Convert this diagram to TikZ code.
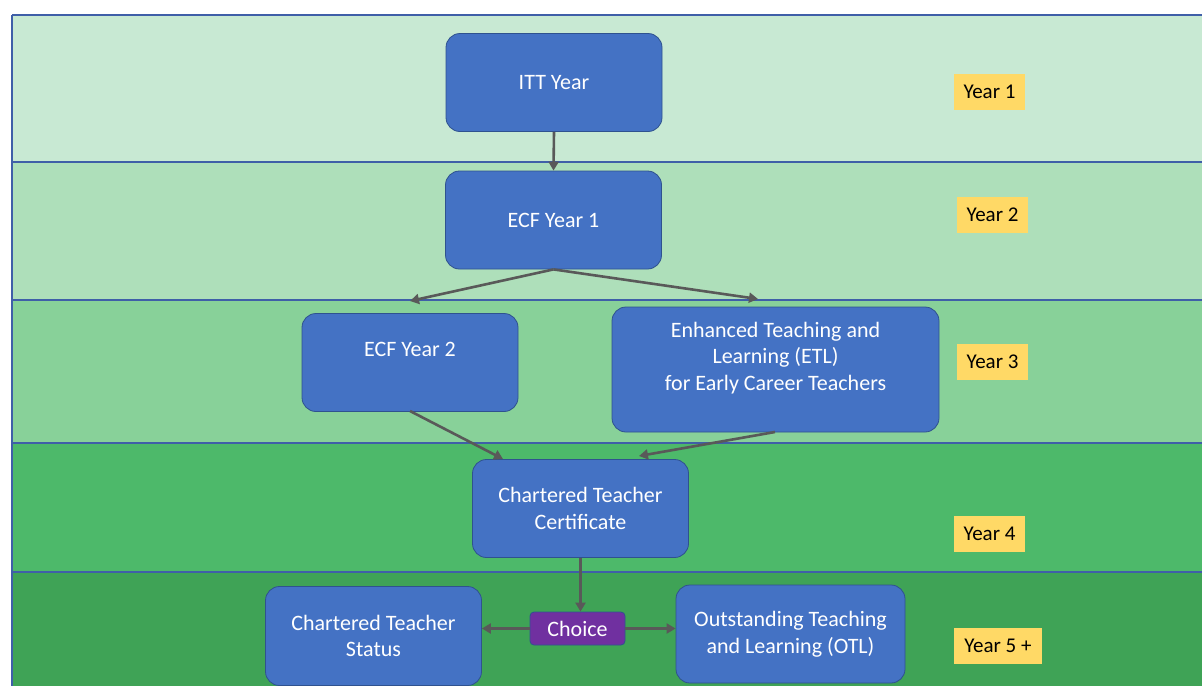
\documentclass[tikz,border=0pt]{standalone}
\usepackage{fontspec}
\setmainfont{Carlito}
\usetikzlibrary{positioning,arrows.meta}

\definecolor{boxblue}{HTML}{4472C4}
\definecolor{boxedge}{HTML}{2F528F}
\definecolor{lineblue}{HTML}{3F5FA8}
\definecolor{yearyellow}{HTML}{FFD966}
\definecolor{choicepurple}{HTML}{7030A0}
\definecolor{arrowgrey}{HTML}{595959}
\definecolor{bandA}{HTML}{C8E9D3}
\definecolor{bandB}{HTML}{AEDFBA}
\definecolor{bandC}{HTML}{88D199}
\definecolor{bandD}{HTML}{4DB96A}
\definecolor{bandE}{HTML}{3FA356}

\begin{document}
\begin{tikzpicture}[x=1pt,y=-1pt]
    \tikzset{stage/.style={
        rectangle, rounded corners=14pt, draw=boxedge, line width=0.8pt, fill=boxblue,
        text=white, align=center, font=\fontsize{22}{26.5}\selectfont,
        minimum width=216pt, minimum height=98pt, inner sep=4pt
      },
      year/.style={fill=yearyellow, font=\fontsize{21}{25}\selectfont,
        inner xsep=10pt, inner ysep=0pt, minimum height=36pt
      },
      flow/.style={draw=arrowgrey, line width=2.6pt, -{Triangle[length=9pt,width=10pt]}}
    }

    \useasboundingbox (0,0) rectangle (1202,686);

    % the year bands
    \fill[bandA] (12,15) rectangle (1202,162);
    \fill[bandB] (12,162) rectangle (1202,300);
    \fill[bandC] (12,300) rectangle (1202,443);
    \fill[bandD] (12,443) rectangle (1202,572);
    \fill[bandE] (12,572) rectangle (1202,686);
    \foreach \y in {15,162,300,443,572}
      \draw[lineblue, line width=1.2pt] (12,\y) -- (1202,\y);
    \draw[lineblue, line width=1.2pt] (12,15) -- (12,686);

    \node[stage] (itt) at (554,82.5) {ITT Year};
    \node[stage] (ecf1) at (553.5,220) {ECF Year 1};
    \node[stage] (ecf2) at (410,362.5) {ECF Year 2\\ \mbox{}};
    \node[stage, minimum width=327pt, minimum height=125pt] (etl) at (775.5,369.5)
      {Enhanced Teaching and\\Learning (ETL)\\for Early Career Teachers\\ \mbox{}};
    \node[stage] (cert) at (580.5,508.5) {Chartered Teacher\\Certificate};
    \node[stage, minimum height=99pt] (cts) at (373.5,636) {Chartered Teacher\\Status};
    \node[stage, minimum width=229pt] (otl) at (790.5,634) {Outstanding Teaching\\and Learning (OTL)};
    \node[stage, fill=choicepurple, rounded corners=4pt, minimum width=95pt, minimum height=33pt,
      inner sep=0pt] (choice) at (577.5,628.5) {Choice};

    \node[year] (y1) at (989.5,91.5) {Year 1};
    \node[year] (y2) at (992.5,214.5) {Year 2};
    \node[year] (y3) at (992.5,362) {Year 3};
    \node[year] (y4) at (989.5,534) {Year 4};
    \node[year] (y5) at (998,646) {Year 5 +};

    % loose arrow ends above the boxes
    \coordinate (toecf2) at (410,301);
    \coordinate (toetl) at (758,299);
    \coordinate (fromecf2) at (410,411);
    \coordinate (frometl) at (775,432);
    \coordinate (certleft) at (503,459);
    \coordinate (certright) at (639,456);

    \draw[flow] (itt.south) -- (ecf1.north);
    \draw[flow] (ecf1.south) -- (toecf2);
    \draw[flow] (ecf1.south) -- (toetl);
    \draw[flow] (fromecf2) -- (certleft);
    \draw[flow] (frometl) -- (certright);
    \draw[flow] (cert.south) -- (cert.south |- choice.north);
    \draw[flow] (choice.west) -- (choice.west -| cts.east);
    \draw[flow] (choice.east) -- (choice.east -| otl.west);
\end{tikzpicture}
\end{document}
